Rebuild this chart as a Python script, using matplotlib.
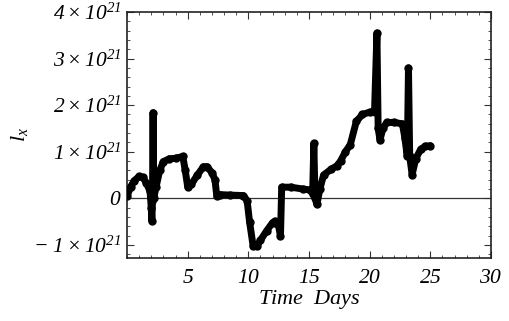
import matplotlib
matplotlib.use("Agg")
import matplotlib.pyplot as plt
from matplotlib.ticker import MultipleLocator, FixedLocator

plt.rcParams['mathtext.fontset'] = 'custom'
plt.rcParams['mathtext.rm'] = 'Liberation Serif:italic'
plt.rcParams['mathtext.it'] = 'Liberation Serif:italic'
plt.rcParams['font.family'] = ['Liberation Serif']

# time in days and l_x in units of 1e21
t = [0.0, 0.3, 0.6, 1.0, 1.3, 1.6, 1.9, 2.0, 2.05, 2.1, 2.15, 2.2, 2.4, 2.7, 3.0,
     3.5, 4.0, 4.6, 4.8, 5.0, 5.3, 5.8, 6.3, 6.6, 7.0, 7.25, 7.4, 7.7, 8.5, 9.6,
     9.9, 10.1, 10.4, 10.7, 11.0, 11.5, 12.0, 12.2, 12.5, 12.65, 12.75, 13.5, 14.5,
     15.1, 15.3, 15.4, 15.5, 15.65, 15.9, 16.2, 16.8, 17.3, 17.6, 18.0, 18.4, 18.9,
     19.4, 20.0, 20.4, 20.6, 20.7, 20.85, 21.1, 21.4, 22.0, 22.7, 22.9, 23.1, 23.2,
     23.3, 23.5, 23.8, 24.2, 24.6, 25.0]
lx = [0.04, 0.25, 0.38, 0.47, 0.45, 0.33, 0.15, -0.2, -0.49, -0.05, 1.84, 0.0, 0.25,
      0.6, 0.79, 0.85, 0.86, 0.9, 0.6, 0.25, 0.3, 0.5, 0.68, 0.68, 0.55, 0.4, 0.05,
      0.08, 0.07, 0.06, -0.05, -0.5, -1.03, -1.03, -0.9, -0.7, -0.52, -0.49, -0.6,
      -0.81, 0.24, 0.24, 0.2, 0.18, 0.1, 1.18, 0.0, -0.13, 0.2, 0.5, 0.62, 0.7, 0.8,
      1.0, 1.15, 1.65, 1.8, 1.85, 1.86, 3.55, 1.5, 1.26, 1.5, 1.63, 1.63, 1.6, 1.3,
      0.9, 2.8, 0.9, 0.51, 0.85, 1.05, 1.12, 1.13]

xticks = [5, 10, 15, 20, 25, 30]
yticks = [-1, 0, 1, 2, 3, 4]
ylabels = [r'$-\ 1\times10^{21}$', r'$0$', r'$1\times10^{21}$', r'$2\times10^{21}$',
           r'$3\times10^{21}$', r'$4\times10^{21}$']

fig = plt.figure(figsize=(5.09, 3.21), dpi=100)
ax = fig.add_axes([0.2495, 0.1963, 0.7151, 0.7663])

ax.axhline(0, color='#333333', lw=0.9, zorder=1)
ax.plot(t, lx, color='black', lw=5, solid_capstyle='round', solid_joinstyle='round',
        marker='o', ms=5, zorder=3)

ax.set_xlim(0, 30)
ax.set_ylim(-1.28, 4.0)
ax.xaxis.set_major_locator(FixedLocator(xticks))
ax.xaxis.set_minor_locator(MultipleLocator(1))
ax.yaxis.set_major_locator(FixedLocator(yticks))
ax.yaxis.set_minor_locator(MultipleLocator(0.2))
ax.set_xticklabels([r'$%d$' % v for v in xticks])
ax.set_yticklabels(ylabels)
ax.tick_params(which='both', direction='in', top=True, right=True, color='#333333')
ax.tick_params(which='major', length=5, width=0.8, labelsize=15.5)
ax.tick_params(which='minor', length=2.5, width=0.6)
ax.tick_params(axis='x', pad=8)
ax.tick_params(axis='y', pad=4)
for s in ax.spines.values():
    s.set_linewidth(1.2)
    s.set_color('#222222')

ax.set_xlabel(r'$Time\ \ Days$', fontsize=16, labelpad=0)
ax.set_ylabel(r'$l_x$', fontsize=16, labelpad=2)

fig.savefig('out.png', dpi=100)
